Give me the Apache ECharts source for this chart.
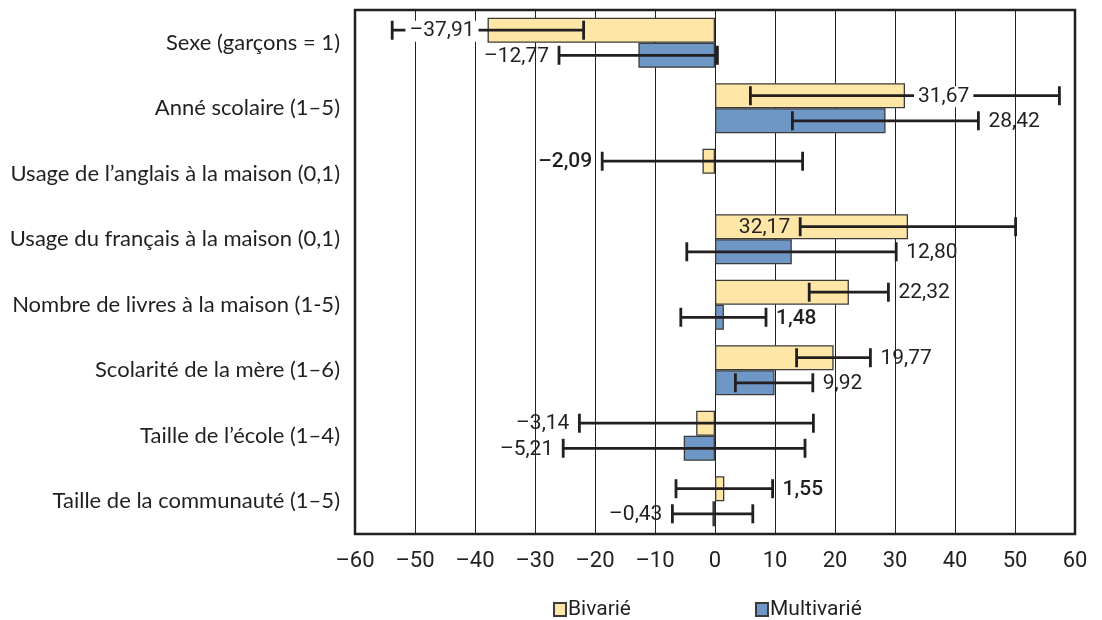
<!DOCTYPE html>
<html>
<head>
<meta charset="utf-8">
<script src="https://cdn.jsdelivr.net/npm/echarts@6/dist/echarts.min.js"></script>
<style>
  html, body { margin: 0; padding: 0; background: #fff; }
  #chart { width: 1102px; height: 620px; }
</style>
</head>
<body>
<div id="chart"></div>
<script>
// Predictors (top to bottom)
const categories = [
  'Sexe (garçons = 1)',
  'Anné scolaire (1–5)',
  'Usage de l’anglais à la maison (0,1)',
  'Usage du français à la maison (0,1)',
  'Nombre de livres à la maison (1-5)',
  'Scolarité de la mère (1–6)',
  'Taille de l’école (1–4)',
  'Taille de la communauté (1–5)'
];

// Coefficients
const bivarie    = [-37.91, 31.67, -2.09, 32.17, 22.32, 19.77, -3.14, 1.55];
const multivarie = [-12.77, 28.42, null, 12.80, 1.48, 9.92, -5.21, -0.43];

// Confidence interval bounds
const bivarieLow     = [-53.8, 5.9, -18.8, 14.2, 15.7, 13.6, -22.6, -6.5];
const bivarieHigh    = [-21.9, 57.4, 14.6, 50.1, 28.9, 25.9, 16.4, 9.6];
const multivarieLow  = [-26.0, 12.9, null, -4.7, -5.7, 3.4, -25.3, -7.1];
const multivarieHigh = [0.4, 43.9, null, 30.2, 8.5, 16.3, 15.0, 6.3];

// X axis ticks
const xTicks = [-60, -50, -40, -30, -20, -10, 0, 10, 20, 30, 40, 50, 60];

const seriesNames = ['Bivarié', 'Multivarié'];

// Where each value label sits: beside a cap of the interval, or beside the bar end
const labelPlace = [
  ['endL', 'endR', 'capL', 'capL', 'capR', 'capR', 'capL', 'capR'],
  ['capL', 'capR', null, 'capR', 'capR', 'capR', 'capL', 'capL']
];
const strongLabel = [
  [false, false, true, false, false, false, false, true],
  [false, false, false, false, true, false, false, false]
];

const BAR_GAP = 0.235;
const NUM_FONT = 'Roboto, "Liberation Sans", sans-serif';

function fmt(v) {
  const s = Math.abs(v).toFixed(2).replace('.', ',');
  return v < 0 ? '–' + s : s;
}

function errData(vals, lows, highs, s) {
  const out = [];
  vals.forEach(function (v, i) {
    if (v === null || lows[i] === null) return;
    out.push([i, v, lows[i], highs[i], s]);
  });
  return out;
}

function renderErr(params, api) {
  const cat = api.value(0), v = api.value(1), lo = api.value(2), hi = api.value(3), s = api.value(4);
  const base = api.coord([0, cat]);
  const band = api.size([0, 1])[1];
  const barH = band * (1 - BAR_GAP) / 2;
  const y = base[1] + (s === 0 ? -barH / 2 : barH / 2);
  const xl = api.coord([lo, cat])[0];
  const xh = api.coord([hi, cat])[0];
  const xv = api.coord([v, cat])[0];
  const capH = 9.5;
  const ls = { stroke: '#231f20', lineWidth: 2.8 };
  const children = [
    { type: 'line', shape: { x1: xl, y1: y, x2: xh, y2: y }, style: ls },
    { type: 'line', shape: { x1: xl, y1: y - capH, x2: xl, y2: y + capH }, style: ls },
    { type: 'line', shape: { x1: xh, y1: y - capH, x2: xh, y2: y + capH }, style: ls }
  ];
  const i = cat;
  const place = labelPlace[s][i];
  if (place) {
    let tx, align, bg = null, pad = 0;
    if (place === 'capL') { tx = xl - 10; align = 'right'; }
    else if (place === 'capR') { tx = xh + 10; align = 'left'; }
    else if (place === 'endL') { tx = xv - 9; align = 'right'; bg = '#fff'; pad = [0, 4]; }
    else { tx = xv + 9; align = 'left'; bg = '#fff'; pad = [0, 4]; }
    const st = {
      text: fmt(v), x: tx, y: y + 1, align: align, verticalAlign: 'middle',
      fill: '#231f20',
      font: (strongLabel[s][i] ? '500 ' : '') + '21px ' + NUM_FONT
    };
    if (bg) { st.backgroundColor = bg; st.padding = pad; }
    children.push({ type: 'text', style: st, z2: 10 });
  }
  return { type: 'group', children: children };
}

const chart = echarts.init(document.getElementById('chart'), null, { renderer: 'canvas' });

chart.setOption({
  backgroundColor: '#fff',
  animation: false,
  grid: {
    left: 355, right: 27, top: 10, bottom: 86,
    show: true, borderColor: '#231f20', borderWidth: 2.5, backgroundColor: 'transparent'
  },
  legend: {
    data: seriesNames,
    left: 548, top: 594,
    itemWidth: 12, itemHeight: 13, itemGap: 124,
    icon: 'rect',
    textStyle: { fontFamily: NUM_FONT, fontSize: 21, color: '#231f20', padding: [0, 0, 0, -3] }
  },
  xAxis: {
    type: 'value', min: -60, max: 60, interval: 10,
    axisLine: { show: false }, axisTick: { show: false },
    splitLine: { show: true, lineStyle: { color: '#231f20', width: 1 } },
    axisLabel: {
      margin: 16, fontFamily: NUM_FONT, fontSize: 22, color: '#231f20',
      customValues: xTicks,
      formatter: function (v) { return v < 0 ? '–' + Math.abs(v) : String(v); }
    }
  },
  yAxis: {
    type: 'category', data: categories, inverse: true,
    axisLine: { show: false }, axisTick: { show: false }, splitLine: { show: false },
    axisLabel: { margin: 15, fontFamily: 'Lato, "Noto Sans", sans-serif', fontSize: 22, color: '#231f20' }
  },
  series: [
    {
      name: seriesNames[0], type: 'bar', data: bivarie,
      barGap: '0%', barCategoryGap: (BAR_GAP * 100) + '%',
      itemStyle: { color: '#fee6a6', borderColor: '#3b3b3b', borderWidth: 1.3 },
      z: 2
    },
    {
      name: seriesNames[1], type: 'bar', data: multivarie,
      barGap: '0%', barCategoryGap: (BAR_GAP * 100) + '%',
      itemStyle: { color: '#6f97c6', borderColor: '#3b3b3b', borderWidth: 1.3 },
      z: 2
    },
    {
      type: 'custom', renderItem: renderErr, z: 5,
      data: errData(bivarie, bivarieLow, bivarieHigh, 0).concat(errData(multivarie, multivarieLow, multivarieHigh, 1)),
      encode: { x: [1, 2, 3], y: 0 },
      silent: true
    }
  ]
});
</script>
</body>
</html>
